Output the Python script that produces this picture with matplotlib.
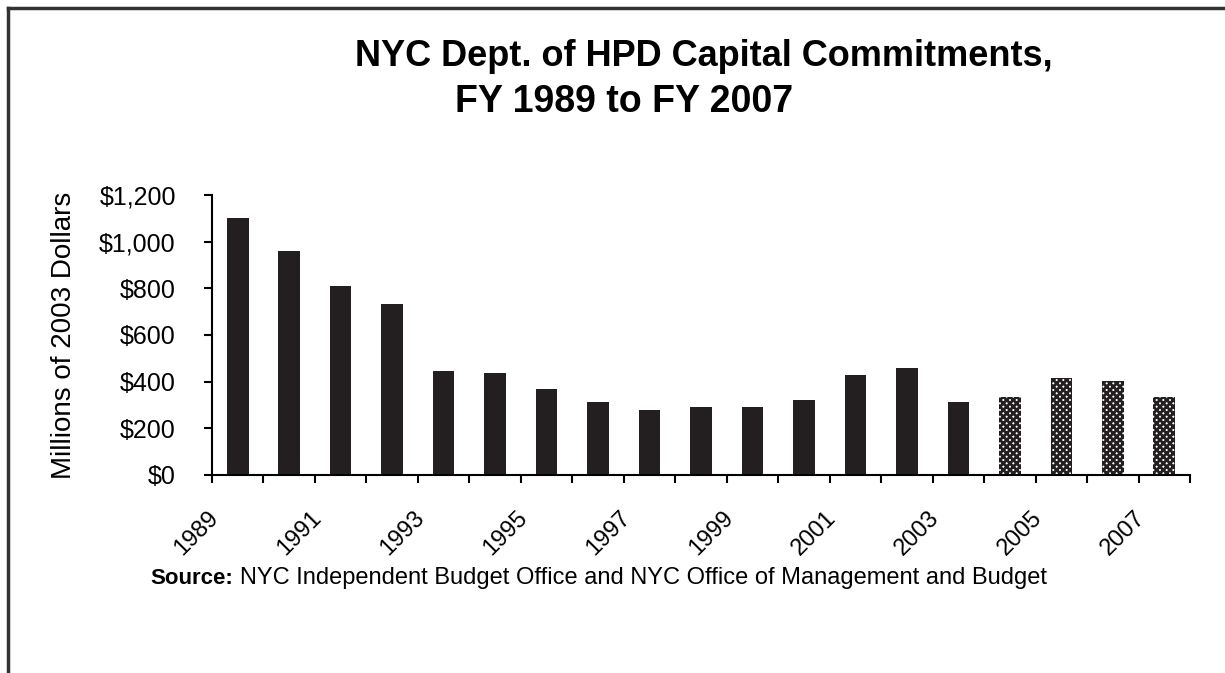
import matplotlib.pyplot as plt
import numpy as np
from matplotlib.lines import Line2D

years = list(range(1989, 2008))
commitments = [1100, 960, 812, 733, 447, 437, 369, 311, 278, 290, 290,
               322, 427, 460, 312, 336, 415, 405, 336]
projected_from = 2004
ytick_values = [0, 200, 400, 600, 800, 1000, 1200]
ytick_labels = ["$0", "$200", "$400", "$600", "$800", "$1,000", "$1,200"]
xtick_years = list(range(1989, 2008, 2))

plt.rcParams["font.family"] = ["Liberation Sans", "DejaVu Sans"]
plt.rcParams["hatch.linewidth"] = 2.0

W, H = 1225, 673
fig = plt.figure(figsize=(W / 100, H / 100), dpi=100)
ax = fig.add_axes([212 / W, 1 - 475 / H, 978 / W, 280 / H])

x = np.arange(len(years))
for xi, yr, val in zip(x, years, commitments):
  if yr >= projected_from:
    ax.bar(xi, val, width=0.42, facecolor="white", edgecolor="#231f20",
           hatch="xxxxx", linewidth=0)
  else:
    ax.bar(xi, val, width=0.42, color="#231f20")

ax.set_xlim(-0.5, len(years) - 0.5)
ax.set_ylim(0, 1200)
ax.set_yticks(ytick_values)
ax.set_yticklabels(ytick_labels, fontsize=18)

# tick marks sit between categories, labels under odd years
# (labels end a little left of the bar centre, as in the original)
ax.set_xticks(np.arange(-0.5, len(years), 1.0), minor=True)
ax.set_xticks([years.index(y) - 0.29 for y in xtick_years])
ax.set_xticklabels([str(y) for y in xtick_years], rotation=45, ha="right",
                   va="top", fontsize=17)
ax.tick_params(axis="x", which="major", length=0, pad=23)
ax.tick_params(axis="x", which="minor", length=6, width=1.5, direction="out")
ax.tick_params(axis="y", length=6, width=1.5, direction="out", pad=20)

for side in ["top", "right"]:
  ax.spines[side].set_visible(False)
for side in ["left", "bottom"]:
  ax.spines[side].set_linewidth(1.5)

ax.set_ylabel("Millions of 2003 Dollars", fontsize=20)
ax.yaxis.set_label_coords(-0.138, 0.5)

fig.text(355 / W, 1 - 66 / H, "NYC Dept. of HPD Capital Commitments,",
         fontsize=26, fontweight="bold", ha="left", va="baseline")
fig.text(455 / W, 1 - 112 / H, "FY 1989 to FY 2007",
         fontsize=27, fontweight="bold", ha="left", va="baseline")

fig.text(150 / W, 1 - 578 / H, "Source:", fontsize=16,
         fontweight="bold", ha="left", va="center")
fig.text(240 / W, 1 - 578 / H,
         "NYC Independent Budget Office and NYC Office of Management and Budget",
         fontsize=17, ha="left", va="center")

# outer frame (top and left edges)
fig.add_artist(Line2D([8 / W, 1], [1 - 8 / H, 1 - 8 / H],
                      color="#333333", linewidth=2.5))
fig.add_artist(Line2D([8 / W, 8 / W], [0, 1 - 8 / H],
                      color="#333333", linewidth=2.5))

fig.savefig("out.png", dpi=100)
